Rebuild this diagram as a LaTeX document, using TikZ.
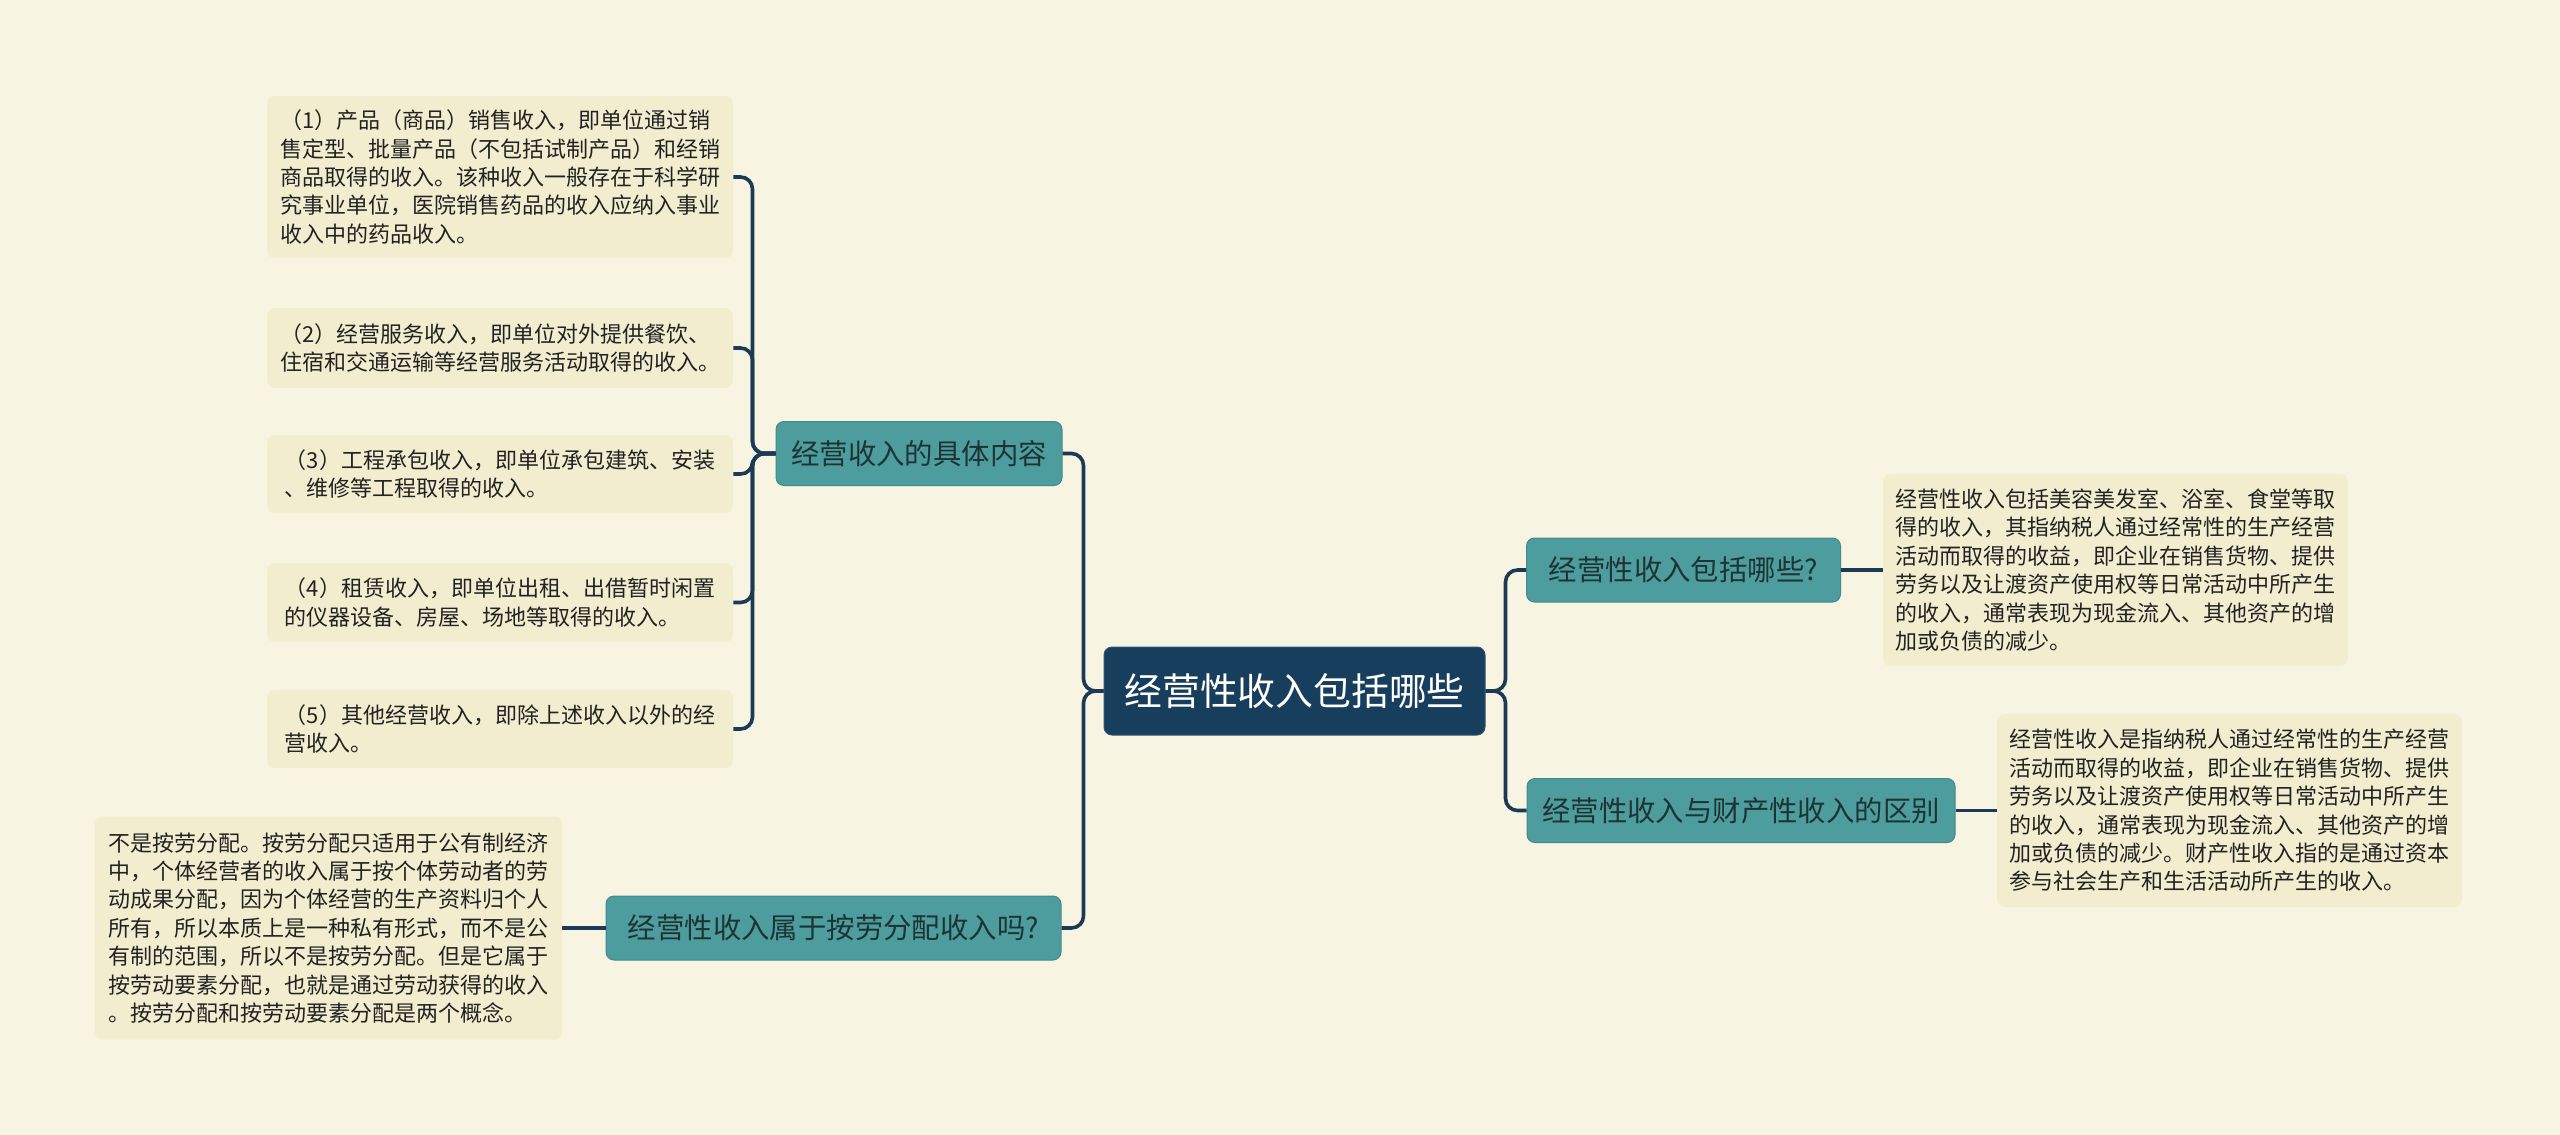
\documentclass[tikz,border=0pt]{standalone}
\usepackage{fontspec}
\newfontfamily\cjk{Noto Sans CJK SC}

\definecolor{bgcream}{HTML}{F8F4E2}
\definecolor{leafcream}{HTML}{F2EDCF}
\definecolor{topicteal}{HTML}{4E9D9E}
\definecolor{topicedge}{HTML}{43898A}
\definecolor{hubnavy}{HTML}{173E5C}
\definecolor{hubedge}{HTML}{2E5572}
\definecolor{linknavy}{HTML}{1C3A55}
\definecolor{topictext}{HTML}{1E3334}
\definecolor{leaftext}{HTML}{222222}

\begin{document}
\begin{tikzpicture}[x=0.5pt, y=-0.5pt,
    leaf/.style={fill=leafcream, rounded corners=4pt, inner sep=0pt, align=left,
      text=leaftext, minimum width=233pt, font={\cjk\fontsize{11pt}{14.2pt}\selectfont}},
    topic/.style={fill=topicteal, draw=topicedge, line width=0.5pt, rounded corners=4pt,
      inner sep=0pt, minimum height=32pt, text=topictext,
      font={\cjk\fontsize{14.2pt}{17pt}\selectfont}},
    hubbox/.style={fill=hubnavy, draw=hubedge, line width=0.5pt, rounded corners=4pt,
      inner sep=0pt, minimum width=190.5pt, minimum height=44pt, text=white,
      font={\cjk\fontsize{18.9pt}{22pt}\selectfont}},
    link/.style={draw=linknavy, line width=1.8pt, rounded corners=6pt}]

    \newcommand*{\wMax}{2560}%
    \newcommand*{\hMax}{1135}%
    \def\gapL {20}
    \def\gapA {23}

    % page
    \fill[bgcream] (0,0) rectangle (\wMax,\hMax);

    % centre
    \node[hubbox] (hub) at (1294.5,691) {经营性收入包括哪些};

    % left side
    \node[topic, minimum width=143pt] (content) at (919,453.5) {经营收入的具体内容};
    \node[topic, minimum width=227.5pt] (labour) at (833.5,928) {经营性收入属于按劳分配收入吗?};

    \node[leaf, minimum height=81pt] (sale) at (500,177) {（1）产品（商品）销售收入，即单位通过销\\售定型、批量产品（不包括试制产品）和经销\\商品取得的收入。该种收入一般存在于科学研\\究事业单位，医院销售药品的收入应纳入事业\\收入中的药品收入。};
    \node[leaf, minimum height=40pt] (service) at (500,348) {（2）经营服务收入，即单位对外提供餐饮、\\住宿和交通运输等经营服务活动取得的收入。};
    \node[leaf, minimum height=39pt] (contract) at (500,474) {（3）工程承包收入，即单位承包建筑、安装\\、维修等工程取得的收入。};
    \node[leaf, minimum height=39.5pt] (lease) at (500,602.5) {（4）租赁收入，即单位出租、出借暂时闲置\\的仪器设备、房屋、场地等取得的收入。};
    \node[leaf, minimum height=39pt] (other) at (500,729) {（5）其他经营收入，即除上述收入以外的经\\营收入。};
    \node[leaf, minimum width=233.5pt, minimum height=111.5pt] (labourtext) at (328.5,928) {不是按劳分配。按劳分配只适用于公有制经济\\中，个体经营者的收入属于按个体劳动者的劳\\动成果分配，因为个体经营的生产资料归个人\\所有，所以本质上是一种私有形式，而不是公\\有制的范围，所以不是按劳分配。但是它属于\\按劳动要素分配，也就是通过劳动获得的收入\\。按劳分配和按劳动要素分配是两个概念。};

    % right side
    \node[topic, minimum width=157pt] (includes) at (1683.5,570) {经营性收入包括哪些?};
    \node[topic, minimum width=214pt] (differ) at (1741,810.5) {经营性收入与财产性收入的区别};

    \node[leaf, minimum width=232.5pt, minimum height=96pt] (includestext) at (2115.5,570) {经营性收入包括美容美发室、浴室、食堂等取\\得的收入，其指纳税人通过经常性的生产经营\\活动而取得的收益，即企业在销售货物、提供\\劳务以及让渡资产使用权等日常活动中所产生\\的收入，通常表现为现金流入、其他资产的增\\加或负债的减少。};
    \node[leaf, minimum width=232.5pt, minimum height=96.5pt] (differtext) at (2229.5,810.5) {经营性收入是指纳税人通过经常性的生产经营\\活动而取得的收益，即企业在销售货物、提供\\劳务以及让渡资产使用权等日常活动中所产生\\的收入，通常表现为现金流入、其他资产的增\\加或负债的减少。财产性收入指的是通过资本\\参与社会生产和生活活动所产生的收入。};

    % links
    \foreach \n in {content, labour} {
      \draw[link] (hub.west) -- ++(-\gapL,0) |- (\n.east);
    }
    \foreach \n in {includes, differ} {
      \draw[link] (hub.east) -- ++(\gapL,0) |- (\n.west);
    }
    \foreach \n in {sale, service, contract, lease, other} {
      \draw[link] (content.west) -- ++(-\gapA,0) |- (\n.east);
    }
    \draw[link] (labour.west) -- (labourtext.east);
    \draw[link] (includes.east) -- (includestext.west);
    \draw[link] (differ.east) -- (differtext.west);
\end{tikzpicture}
\end{document}
